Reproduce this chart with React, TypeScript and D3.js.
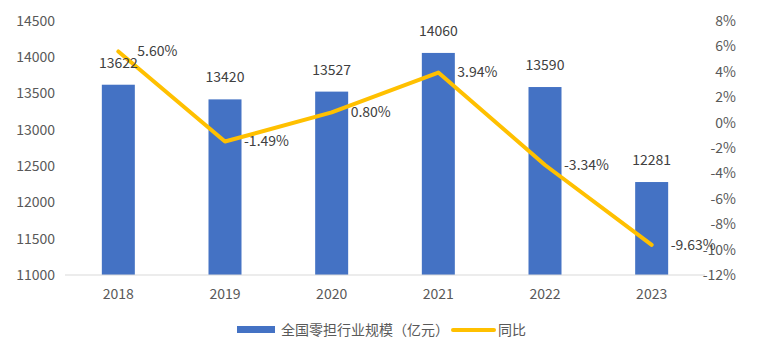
import React, { useEffect, useRef } from 'react';
import * as d3 from 'd3';

const years = ['2018', '2019', '2020', '2021', '2022', '2023'];
const scaleValues = [13622, 13420, 13527, 14060, 13590, 12281];
const growthValues = [5.6, -1.49, 0.8, 3.94, -3.34, -9.63];
const leftTicks = [11000, 11500, 12000, 12500, 13000, 13500, 14000, 14500];
const rightTicks = [-12, -10, -8, -6, -4, -2, 0, 2, 4, 6, 8];
const barName = '全国零担行业规模（亿元）';
const lineName = '同比';

const W = 763;
const H = 358;
const FONT = '"Noto Sans CJK SC", "Noto Sans", sans-serif';

const App: React.FC = () => {
  const ref = useRef<SVGSVGElement>(null);

  useEffect(() => {
    const svg = d3.select(ref.current);
    svg.selectAll('*').remove();

    const left = 65;
    const right = 705;
    const top = 21;
    const bottom = 275;

    const x = d3.scaleBand().domain(years).range([left, right]).paddingInner(0).paddingOuter(0);
    const yL = d3.scaleLinear().domain([11000, 14500]).range([bottom, top]);
    const yR = d3.scaleLinear().domain([-12, 8]).range([bottom, top]);
    const barW = 33;
    const cx = (i: number) => x(years[i])! + x.bandwidth() / 2;

    // bars
    svg.append('g')
      .selectAll('rect')
      .data(scaleValues)
      .enter().append('rect')
      .attr('x', (_, i) => cx(i) - barW / 2)
      .attr('y', (d) => yL(d))
      .attr('width', barW)
      .attr('height', (d) => bottom - yL(d))
      .attr('fill', '#4472C4');

    // baseline
    svg.append('line')
      .attr('x1', left).attr('x2', right)
      .attr('y1', bottom).attr('y2', bottom)
      .attr('stroke', '#D9D9D9').attr('stroke-width', 1);

    // left axis labels
    svg.append('g')
      .selectAll('text')
      .data(leftTicks)
      .enter().append('text')
      .attr('x', 55)
      .attr('y', (d) => yL(d))
      .attr('dy', '0.35em')
      .attr('text-anchor', 'end')
      .attr('font-size', 14)
      .attr('font-family', FONT)
      .attr('fill', '#595959')
      .text((d) => d);

    // right axis labels
    svg.append('g')
      .selectAll('text')
      .data(rightTicks)
      .enter().append('text')
      .attr('x', 736)
      .attr('y', (d) => yR(d))
      .attr('dy', '0.35em')
      .attr('text-anchor', 'end')
      .attr('font-size', 14)
      .attr('font-family', FONT)
      .attr('fill', '#595959')
      .text((d) => `${d}%`);

    // x labels
    svg.append('g')
      .selectAll('text')
      .data(years)
      .enter().append('text')
      .attr('x', (d) => x(d)! + x.bandwidth() / 2)
      .attr('y', 294)
      .attr('dy', '0.35em')
      .attr('text-anchor', 'middle')
      .attr('font-size', 14)
      .attr('font-family', FONT)
      .attr('fill', '#595959')
      .text((d) => d);

    // line
    const line = d3.line<number>()
      .x((_, i) => cx(i))
      .y((d) => yR(d));
    svg.append('path')
      .datum(growthValues)
      .attr('d', line)
      .attr('fill', 'none')
      .attr('stroke', '#FFC000')
      .attr('stroke-width', 4)
      .attr('stroke-linejoin', 'round')
      .attr('stroke-linecap', 'round');

    // bar value labels
    svg.append('g')
      .selectAll('text')
      .data(scaleValues)
      .enter().append('text')
      .attr('x', (_, i) => cx(i))
      .attr('y', (d) => yL(d) - 22)
      .attr('dy', '0.35em')
      .attr('text-anchor', 'middle')
      .attr('font-size', 14)
      .attr('font-family', FONT)
      .attr('fill', '#404040')
      .text((d) => d);

    // growth labels
    svg.append('g')
      .selectAll('text')
      .data(growthValues)
      .enter().append('text')
      .attr('x', (_, i) => cx(i) + 19)
      .attr('y', (d) => yR(d))
      .attr('dy', '0.35em')
      .attr('font-size', 14)
      .attr('font-family', FONT)
      .attr('fill', '#404040')
      .text((d) => `${d.toFixed(2)}%`);

    // legend
    const lg = svg.append('g').attr('font-family', FONT).attr('font-size', 14).attr('fill', '#595959');
    lg.append('rect').attr('x', 237).attr('y', 326).attr('width', 38).attr('height', 7).attr('fill', '#4472C4');
    lg.append('text').attr('x', 281).attr('y', 330).attr('dy', '0.35em').text(barName);
    lg.append('line').attr('x1', 453).attr('x2', 494).attr('y1', 330).attr('y2', 330)
      .attr('stroke', '#FFC000').attr('stroke-width', 4).attr('stroke-linecap', 'round');
    lg.append('text').attr('x', 498).attr('y', 330).attr('dy', '0.35em').text(lineName);
  }, []);

  return (
    <svg ref={ref} width={W} height={H} style={{ position: 'absolute', left: 0, top: 0, background: '#fff' }} />
  );
};

export default App;
